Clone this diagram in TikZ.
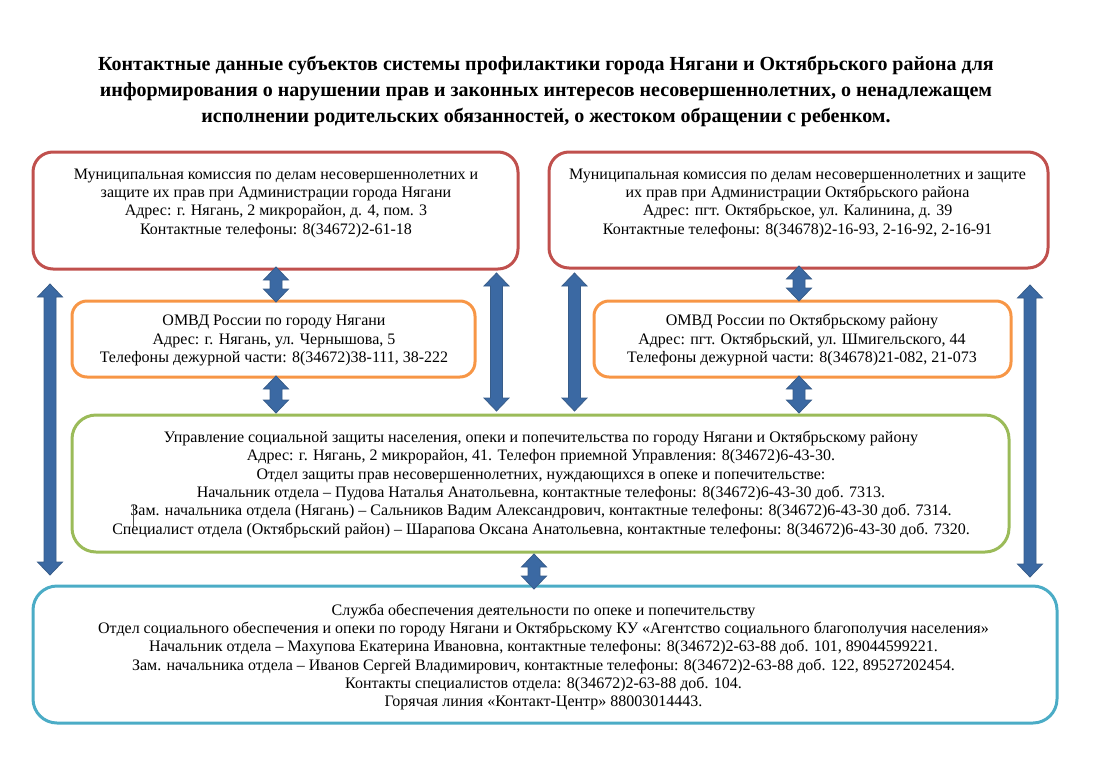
\documentclass[tikz,border=0pt]{standalone}
\usepackage{fontspec}
\setmainfont{Liberation Serif}
\definecolor{cred}{HTML}{C0504D}
\definecolor{corange}{HTML}{F79646}
\definecolor{cgreen}{HTML}{9BBB59}
\definecolor{cblue}{HTML}{4BACC6}
\definecolor{arrfill}{HTML}{4F81BD}
\definecolor{arrdark}{HTML}{3B69A3}
\definecolor{arrlight}{HTML}{5B8FD2}
\definecolor{arrline}{HTML}{385D8A}
\tikzset{
  boxbase/.style={draw, line width=3pt, inner sep=0pt},
  redbox/.style={boxbase, draw=cred, rounded corners=20pt},
  orangebox/.style={boxbase, draw=corange, rounded corners=15pt},
  greenbox/.style={boxbase, draw=cgreen, rounded corners=24pt},
  bluebox/.style={boxbase, draw=cblue, rounded corners=24pt},
  boxtext/.style={anchor=north, inner sep=0pt, align=center, font=\fontsize{16}{18.3}\selectfont},
  titletext/.style={anchor=north, inner sep=0pt, align=center, font=\fontsize{20}{26}\selectfont\bfseries},
  blockarrow/.style={draw=arrline, line width=0.8pt, left color=arrdark, middle color=arrlight, right color=arrdark, line join=miter},
}
% double block arrow: x, top tip y, bottom tip y (y grows downward)
\newcommand\dblarrow[3]{%
  \path[blockarrow] (#1,#2) -- (#1+12.5,#2+13) -- (#1+6,#2+13) -- (#1+6,#3-13) -- (#1+12.5,#3-13)
    -- (#1,#3) -- (#1-12.5,#3-13) -- (#1-6,#3-13) -- (#1-6,#2+13) -- (#1-12.5,#2+13) -- cycle;}
\begin{document}
\begin{tikzpicture}[x=1pt,y=-1pt]
\useasboundingbox (0,0) rectangle (1103,782);

% title
\node[titletext] (title) at (546,55.7) {\rule{0pt}{15pt}Контактные данные субъектов системы профилактики города Нягани и Октябрьского района для\\
информирования о нарушении прав и законных интересов несовершеннолетних, о ненадлежащем\\
исполнении родительских обязанностей, о жестоком обращении с ребенком.};

% boxes
\node[redbox, minimum width=485pt, minimum height=117pt] (r1) at (275.5,210.5) {};
\node[redbox, minimum width=499pt, minimum height=116pt] (r2) at (798.5,210) {};
\node[orangebox, minimum width=403pt, minimum height=76pt] (o1) at (273.5,339) {};
\node[orangebox, minimum width=417pt, minimum height=76pt] (o2) at (802.5,339) {};
\node[greenbox, minimum width=937pt, minimum height=137pt] (g) at (540.5,483.5) {};
\node[bluebox, minimum width=1024pt, minimum height=137pt] (b) at (545,654.5) {};

% texts
\node[boxtext] (t1) at (276,167) {\rule{0pt}{12pt}Муниципальная комиссия по делам несовершеннолетних и\\
защите их прав при Администрации города Нягани\\
Адрес: г. Нягань, 2 микрорайон, д. 4, пом. 3\\
Контактные телефоны: 8(34672)2-61-18};

\node[boxtext] (t2) at (797.5,167) {\rule{0pt}{12pt}Муниципальная комиссия по делам несовершеннолетних и защите\\
их прав при Администрации Октябрьского района\\
Адрес: пгт. Октябрьское, ул. Калинина, д. 39\\
Контактные телефоны: 8(34678)2-16-93, 2-16-92, 2-16-91};

\node[boxtext] (t3) at (274,313.7) {\rule{0pt}{12pt}ОМВД России по городу Нягани\\
Адрес: г. Нягань, ул. Чернышова, 5\\
Телефоны дежурной части: 8(34672)38-111, 38-222};

\node[boxtext] (t4) at (802,313.7) {\rule{0pt}{12pt}ОМВД России по Октябрьскому району\\
Адрес: пгт. Октябрьский, ул. Шмигельского, 44\\
Телефоны дежурной части: 8(34678)21-082, 21-073};

\node[boxtext] (t5) at (541,430.3) {\rule{0pt}{12pt}Управление социальной защиты населения, опеки и попечительства по городу Нягани и Октябрьскому району\\
Адрес: г. Нягань, 2 микрорайон, 41. Телефон приемной Управления: 8(34672)6-43-30.\\
Отдел защиты прав несовершеннолетних, нуждающихся в опеке и попечительстве:\\
Начальник отдела – Пудова Наталья Анатольевна, контактные телефоны: 8(34672)6-43-30 доб. 7313.\\
Зам. начальника отдела (Нягань) – Сальников Вадим Александрович, контактные телефоны: 8(34672)6-43-30 доб. 7314.\\
Специалист отдела (Октябрьский район) – Шарапова Оксана Анатольевна, контактные телефоны: 8(34672)6-43-30 доб. 7320.};

\node[boxtext] (t6) at (543.5,603) {\rule{0pt}{12pt}Служба обеспечения деятельности по опеке и попечительству\\
Отдел социального обеспечения и опеки по городу Нягани и Октябрьскому КУ «Агентство социального благополучия населения»\\
Начальник отдела – Махупова Екатерина Ивановна, контактные телефоны: 8(34672)2-63-88 доб. 101, 89044599221.\\
Зам. начальника отдела – Иванов Сергей Владимирович, контактные телефоны: 8(34672)2-63-88 доб. 122, 89527202454.\\
Контакты специалистов отдела: 8(34672)2-63-88 доб. 104.\\
Горячая линия «Контакт-Центр» 88003014443.};

% small cursor mark in the green box
\draw[line width=0.6pt, black!70] (133.3,505) -- (133.3,527);

% arrows
\dblarrow{50}{284}{575}
\dblarrow{276}{267}{302}
\dblarrow{276}{376}{413}
\dblarrow{496.5}{273}{411}
\dblarrow{574.5}{273}{411}
\dblarrow{799}{266}{301}
\dblarrow{799}{376}{413}
\dblarrow{1030}{285}{577}
\dblarrow{534}{554}{589}
\end{tikzpicture}
\end{document}
